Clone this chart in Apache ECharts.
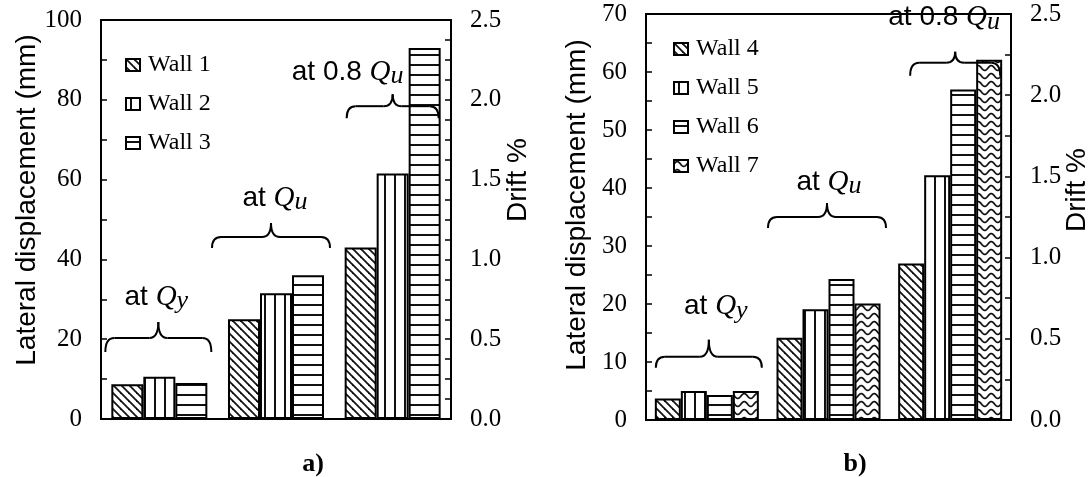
<!DOCTYPE html>
<html>
<head>
<meta charset="utf-8">
<script src="https://cdn.jsdelivr.net/npm/echarts@6/dist/echarts.min.js"></script>
<style>
  html, body { margin: 0; padding: 0; background: #fff; }
  #chart { width: 1090px; height: 477px; }
</style>
</head>
<body>
<div id="chart"></div>
<script>
// Loading stages (categories) and wall names
const stages = ['at Qy', 'at Qu', 'at 0.8 Qu'];
const wallsA = ['Wall 1', 'Wall 2', 'Wall 3'];
const wallsB = ['Wall 4', 'Wall 5', 'Wall 6', 'Wall 7'];

// Lateral displacement (mm) per stage
const wall1 = [8.7, 25.0, 43.0];
const wall2 = [10.6, 31.5, 61.5];
const wall3 = [9.0, 36.0, 93.0];
const wall4 = [3.7, 14.2, 27.0];
const wall5 = [5.0, 19.1, 42.2];
const wall6 = [4.3, 24.3, 57.0];
const wall7 = [5.0, 20.1, 62.1];

// Axis ranges / tick steps
const dispMaxA = 100, dispStepA = 20;
const dispMaxB = 70, dispStepB = 10;
const driftMax = 2.5, driftStep = 0.5;

const SERIF = 'Liberation Serif';
const SANS = 'Liberation Sans';

// ---- hatch fills ----
function makeFill(w, h, draw) {
  const c = document.createElement('canvas');
  c.width = w; c.height = h;
  const g = c.getContext('2d');
  g.fillStyle = '#fff';
  g.fillRect(0, 0, w, h);
  g.strokeStyle = '#111';
  g.lineWidth = 2;
  draw(g, w, h);
  return { image: c, repeat: 'repeat' };
}
const fillDiag = makeFill(8, 8, (g, w, h) => {
  g.lineWidth = 1.8;
  for (let k = -1; k <= 1; k++) {
    g.beginPath();
    g.moveTo(-2 + k * w, -2);
    g.lineTo(w + 2 + k * w, h + 2);
    g.stroke();
  }
});
const fillVert = makeFill(10, 2, (g, w, h) => {
  g.beginPath(); g.moveTo(5, 0); g.lineTo(5, h); g.stroke();
});
const fillHorz = makeFill(2, 10, (g, w, h) => {
  g.beginPath(); g.moveTo(0, 5); g.lineTo(w, 5); g.stroke();
});
const fillWave = makeFill(13, 8, (g, w, h) => {
  g.lineWidth = 1.7;
  g.beginPath();
  for (let x = -1; x <= w + 1; x += 0.5) {
    const y = 4 - 2.4 * Math.sin((2 * Math.PI * x) / w);
    if (x === -1) g.moveTo(x, y); else g.lineTo(x, y);
  }
  g.stroke();
});

const barBorder = { borderColor: '#000', borderWidth: 2 };

function barSeries(name, data, fill, xi, yi, width) {
  return {
    name, type: 'bar', data,
    xAxisIndex: xi, yAxisIndex: yi,
    barWidth: width, barGap: '0%',
    itemStyle: Object.assign({ color: fill }, barBorder)
  };
}

function valueAxis(gridIndex, position, max, step, minorSplit, fmt) {
  return {
    type: 'value', gridIndex, position,
    min: 0, max, interval: step,
    axisLine: { show: true, lineStyle: { color: '#000', width: 2 } },
    axisTick: { show: true, inside: true, length: 6, lineStyle: { color: '#000', width: 1.5 } },
    minorTick: { show: true, splitNumber: minorSplit, length: 6, lineStyle: { color: '#000', width: 1.5 } },
    splitLine: { show: false },
    minorSplitLine: { show: false },
    axisLabel: {
      margin: 19, color: '#000', fontFamily: SERIF, fontSize: 25,
      formatter: fmt
    }
  };
}

function catAxis(gridIndex) {
  return {
    type: 'category', gridIndex, data: stages,
    axisLine: { show: true, lineStyle: { color: '#000', width: 2 } },
    axisTick: { show: false },
    axisLabel: { show: false }
  };
}

function legend(data, left, top) {
  return {
    data, orient: 'vertical', left, top,
    itemWidth: 14, itemHeight: 12, itemGap: 15,
    icon: 'rect',
    itemStyle: { borderColor: '#000', borderWidth: 2 },
    textStyle: { fontFamily: SERIF, fontSize: 24, color: '#000', padding: [0, 0, 0, 3] },
    selectedMode: false
  };
}

const chart = echarts.init(document.getElementById('chart'), null, { renderer: 'canvas' });

chart.setOption({
  animation: false,
  backgroundColor: '#fff',
  grid: [
    { left: 101, top: 20, width: 350, height: 399, show: true, borderColor: '#000', borderWidth: 2, containLabel: false, outerBoundsMode: 'none' },
    { left: 646, top: 14, width: 365, height: 406, show: true, borderColor: '#000', borderWidth: 2, containLabel: false, outerBoundsMode: 'none' }
  ],
  xAxis: [catAxis(0), catAxis(1)],
  yAxis: [
    valueAxis(0, 'left', dispMaxA, dispStepA, 2, v => String(v)),
    valueAxis(0, 'right', driftMax, driftStep, 4, v => v.toFixed(1)),
    valueAxis(1, 'left', dispMaxB, dispStepB, 2, v => String(v)),
    valueAxis(1, 'right', driftMax, driftStep, 2, v => v.toFixed(1))
  ],
  legend: [legend(wallsA, 120, 48), legend(wallsB, 668, 32)],
  series: [
    barSeries(wallsA[0], wall1, fillDiag, 0, 0, 32),
    barSeries(wallsA[1], wall2, fillVert, 0, 0, 32),
    barSeries(wallsA[2], wall3, fillHorz, 0, 0, 32),
    barSeries(wallsB[0], wall4, fillDiag, 1, 2, 26),
    barSeries(wallsB[1], wall5, fillVert, 1, 2, 26),
    barSeries(wallsB[2], wall6, fillHorz, 1, 2, 26),
    barSeries(wallsB[3], wall7, fillWave, 1, 2, 26)
  ]
});

// ---- stage braces and labels ----
// cat: category index, y: brace level on the displacement axis,
// dx/half/hook/peak: brace shape in px, lx/ly: label offset from brace peak
const bracesA = [
  { cat: 0, y: 20.3, dx: -1, half: 53, hook: 14, peak: 16, lx: -2, ly: -25, sub: 'y', pre: 'at ' },
  { cat: 1, y: 45.6, dx: -5, half: 59, hook: 11, peak: 14, lx: 4, ly: -25, sub: 'u', pre: 'at ' },
  { cat: 2, y: 78.4, dx: 0, half: 46, hook: 12, peak: 12, lx: -45, ly: -22, sub: 'u', pre: 'at 0.8 ' }
];
const bracesB = [
  { cat: 0, y: 10.9, dx: 2, half: 53, hook: 11, peak: 17, lx: 7, ly: -33, sub: 'y', pre: 'at ' },
  { cat: 1, y: 35.0, dx: -1.5, half: 59, hook: 11, peak: 14, lx: 2, ly: -21, sub: 'u', pre: 'at ' },
  { cat: 2, y: 61.6, dx: 5, half: 45, hook: 13, peak: 11, lx: -11, ly: -34, sub: 'u', pre: 'at 0.8 ' }
];

const braceStyle = { fill: null, stroke: '#000', lineWidth: 2 };
function curve(x1, y1, cx, cy, x2, y2) {
  return { type: 'bezierCurve', z: 10, shape: { x1, y1, cpx1: cx, cpy1: cy, x2, y2 }, style: braceStyle };
}
function seg(x1, y1, x2, y2) {
  return { type: 'line', z: 10, shape: { x1, y1, x2, y2 }, style: braceStyle };
}
// curly brace opening downward, built from straight runs and quadratic bends
function braceParts(cx, y, half, hook, peak) {
  const x0 = cx - half, x1 = cx + half, r = 9;
  return [
    curve(x0, y + hook, x0, y, x0 + r, y),
    seg(x0 + r, y, cx - r, y),
    curve(cx - r, y, cx, y, cx, y - peak),
    curve(cx, y - peak, cx, y, cx + r, y),
    seg(cx + r, y, x1 - r, y),
    curve(x1 - r, y, x1, y, x1, y + hook)
  ];
}

const rich = {
  a: { fontFamily: SANS, fontSize: 28, fill: '#000', color: '#000' },
  q: { fontFamily: SERIF, fontStyle: 'italic', fontSize: 29, fill: '#000', color: '#000' },
  s: { fontFamily: SERIF, fontStyle: 'italic', fontSize: 26, fill: '#000', color: '#000', padding: [8, 0, 0, 0] }
};

const graphics = [];
function addBraces(list, xi, yi) {
  list.forEach(b => {
    const p = chart.convertToPixel({ xAxisIndex: xi, yAxisIndex: yi }, [b.cat, b.y]);
    const cx = p[0] + b.dx, y = p[1];
    braceParts(cx, y, b.half, b.hook, b.peak).forEach(el => graphics.push(el));
    graphics.push({
      type: 'text', z: 10,
      x: cx + b.lx, y: y - b.peak + b.ly,
      style: {
        text: '{a|' + b.pre + '}{q|Q}{s|' + b.sub + '}',
        rich, align: 'center', verticalAlign: 'middle'
      }
    });
  });
}
addBraces(bracesA, 0, 0);
addBraces(bracesB, 1, 2);

// axis titles and panel captions
function title(text, x, y, rot, font, size, weight) {
  return {
    type: 'text', x, y, rotation: rot, z: 10,
    style: {
      text, fill: '#000', align: 'center', verticalAlign: 'middle',
      font: (weight || 'normal') + ' ' + size + 'px "' + font + '"'
    }
  };
}
graphics.push(
  title('Lateral displacement (mm)', 27, 200, Math.PI / 2, SANS, 28),
  title('Drift %', 518, 180, Math.PI / 2, SANS, 28),
  title('Lateral displacement (mm)', 577, 205, Math.PI / 2, SANS, 28),
  title('Drift %', 1077, 190, Math.PI / 2, SANS, 28),
  title('a)', 313, 464, 0, SERIF, 26, 'bold'),
  title('b)', 855, 464, 0, SERIF, 26, 'bold')
);

chart.setOption({ graphic: graphics });
</script>
</body>
</html>
